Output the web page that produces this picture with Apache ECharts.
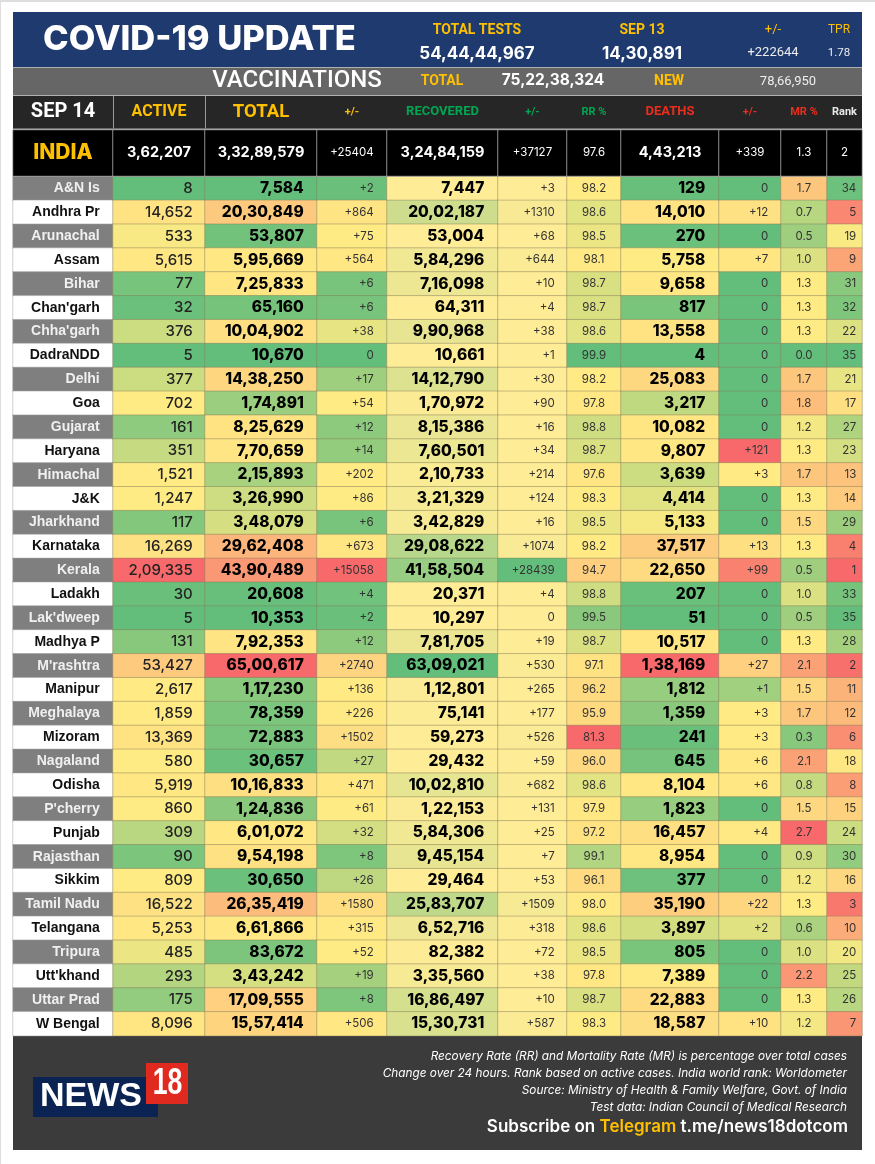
<!DOCTYPE html>
<html>
<head>
<meta charset="utf-8">
<title>COVID-19 Update</title>
<script src="https://cdn.jsdelivr.net/npm/echarts@6/dist/echarts.min.js"></script>
<style>
  html, body { margin: 0; padding: 0; background: #fff; }
  #chart { width: 875px; height: 1164px; }
</style>
</head>
<body>
<div id="chart"></div>
<script>
const states = ["A&N Is", "Andhra Pr", "Arunachal", "Assam", "Bihar", "Chan'garh", "Chha'garh", "DadraNDD", "Delhi", "Goa", "Gujarat", "Haryana", "Himachal", "J&K", "Jharkhand", "Karnataka", "Kerala", "Ladakh", "Lak'dweep", "Madhya P", "M'rashtra", "Manipur", "Meghalaya", "Mizoram", "Nagaland", "Odisha", "P'cherry", "Punjab", "Rajasthan", "Sikkim", "Tamil Nadu", "Telangana", "Tripura", "Utt'khand", "Uttar Prad", "W Bengal"];
const active = [8, 14652, 533, 5615, 77, 32, 376, 5, 377, 702, 161, 351, 1521, 1247, 117, 16269, 209335, 30, 5, 131, 53427, 2617, 1859, 13369, 580, 5919, 860, 309, 90, 809, 16522, 5253, 485, 293, 175, 8096];
const total = [7584, 2030849, 53807, 595669, 725833, 65160, 1004902, 10670, 1438250, 174891, 825629, 770659, 215893, 326990, 348079, 2962408, 4390489, 20608, 10353, 792353, 6500617, 117230, 78359, 72883, 30657, 1016833, 124836, 601072, 954198, 30650, 2635419, 661866, 83672, 343242, 1709555, 1557414];
const totalChange = [2, 864, 75, 564, 6, 6, 38, 0, 17, 54, 12, 14, 202, 86, 6, 673, 15058, 4, 2, 12, 2740, 136, 226, 1502, 27, 471, 61, 32, 8, 26, 1580, 315, 52, 19, 8, 506];
const recovered = [7447, 2002187, 53004, 584296, 716098, 64311, 990968, 10661, 1412790, 170972, 815386, 760501, 210733, 321329, 342829, 2908622, 4158504, 20371, 10297, 781705, 6309021, 112801, 75141, 59273, 29432, 1002810, 122153, 584306, 945154, 29464, 2583707, 652716, 82382, 335560, 1686497, 1530731];
const recoveredChange = [3, 1310, 68, 644, 10, 4, 38, 1, 30, 90, 16, 34, 214, 124, 16, 1074, 28439, 4, 0, 19, 530, 265, 177, 526, 59, 682, 131, 25, 7, 53, 1509, 318, 72, 38, 10, 587];
const recoveryRate = [98.2, 98.6, 98.5, 98.1, 98.7, 98.7, 98.6, 99.9, 98.2, 97.8, 98.8, 98.7, 97.6, 98.3, 98.5, 98.2, 94.7, 98.8, 99.5, 98.7, 97.1, 96.2, 95.9, 81.3, 96.0, 98.6, 97.9, 97.2, 99.1, 96.1, 98.0, 98.6, 98.5, 97.8, 98.7, 98.3];
const deaths = [129, 14010, 270, 5758, 9658, 817, 13558, 4, 25083, 3217, 10082, 9807, 3639, 4414, 5133, 37517, 22650, 207, 51, 10517, 138169, 1812, 1359, 241, 645, 8104, 1823, 16457, 8954, 377, 35190, 3897, 805, 7389, 22883, 18587];
const deathsChange = [0, 12, 0, 7, 0, 0, 0, 0, 0, 0, 0, 121, 3, 0, 0, 13, 99, 0, 0, 0, 27, 1, 3, 3, 6, 6, 0, 4, 0, 0, 22, 2, 0, 0, 0, 10];
const mortalityRate = [1.7, 0.7, 0.5, 1.0, 1.3, 1.3, 1.3, 0.0, 1.7, 1.8, 1.2, 1.3, 1.7, 1.3, 1.5, 1.3, 0.5, 1.0, 0.5, 1.3, 2.1, 1.5, 1.7, 0.3, 2.1, 0.8, 1.5, 2.7, 0.9, 1.2, 1.3, 0.6, 1.0, 2.2, 1.3, 1.2];
const rank = [34, 5, 19, 9, 31, 32, 22, 35, 21, 17, 27, 23, 13, 14, 29, 4, 1, 33, 35, 28, 2, 11, 12, 6, 18, 8, 15, 24, 30, 16, 3, 10, 20, 25, 26, 7];

// national row, same column order as above
const indiaRow = [362207, 33289579, 25404, 32484159, 37127, 97.6, 443213, 339, 1.3, 2];

const GREEN = "#63BE7B", YELLOW = "#FFEB84", RED = "#F8696B", PALE = "#FFEC96";
const SANS = "Inter, 'Liberation Sans', sans-serif";
const COND = "Roboto, 'Liberation Sans', sans-serif";
const ARIAL = "'Liberation Sans', Arial, sans-serif";

function indian(n) {
  const s = String(n);
  if (s.length <= 3) return s;
  const head = s.slice(0, -3).replace(/\B(?=(\d{2})+$)/g, ",");
  return head + "," + s.slice(-3);
}
const plus = (n) => (n === 0 ? "0" : "+" + n);
const one = (n) => n.toFixed(1);

function median(values) {
  const sorted = [...values].sort((a, b) => a - b);
  const m = sorted.length / 2;
  return Number.isInteger(m) ? (sorted[m - 1] + sorted[m]) / 2 : sorted[Math.floor(m)];
}

// excel style colour scale: returns 0..1, 0.5 sitting on the mid value
function scalePos(values, kind, midOverride) {
  const lo = Math.min(...values), hi = Math.max(...values);
  if (kind === "two") return (v) => (v - lo) / (hi - lo);
  const mid = midOverride !== undefined ? midOverride : median(values);
  return (v) => (v <= mid ? 0.5 * (v - lo) / (mid - lo) : 0.5 + 0.5 * (v - mid) / (hi - mid));
}

const columns = [
  { head: "ACTIVE", headColor: "#FFC000", headSize: 16, left: 113, right: 205, values: active, fmt: indian, colors: [GREEN, YELLOW, RED], pad: 13, size: 15, weight: 500, color: "#222" },
  { head: "TOTAL", headColor: "#FFC000", headSize: 18.5, left: 205, right: 317, values: total, fmt: indian, colors: [GREEN, YELLOW, RED], pad: 14, size: 15.5, weight: 800, color: "#000" },
  { head: "+/-", headColor: "#FFC000", headSize: 11, left: 317, right: 387, values: totalChange, fmt: plus, colors: [GREEN, YELLOW, RED], pad: 14, size: 11.5, weight: 400, color: "#333" },
  { head: "RECOVERED", headColor: "#00A651", headSize: 13, left: 387, right: 498, values: recovered, fmt: indian, kind: "two", colors: [PALE, GREEN], pad: 14.5, size: 15.5, weight: 800, color: "#000" },
  { head: "+/-", headColor: "#00A651", headSize: 11, left: 498, right: 567, values: recoveredChange, fmt: plus, kind: "two", colors: [PALE, GREEN], pad: 13, size: 11.5, weight: 400, color: "#333" },
  { head: "RR %", headColor: "#00A651", headSize: 11, left: 567, right: 621, values: recoveryRate, fmt: one, colors: [RED, YELLOW, GREEN], center: true, size: 11.5, weight: 400, color: "#333" },
  { head: "DEATHS", headColor: "#EA2E1E", headSize: 13, left: 621, right: 719, values: deaths, fmt: indian, colors: [GREEN, YELLOW, RED], pad: 14.5, size: 15.5, weight: 800, color: "#000" },
  { head: "+/-", headColor: "#EA2E1E", headSize: 11, left: 719, right: 781, values: deathsChange, fmt: plus, mid: 2.5, colors: [GREEN, YELLOW, RED], pad: 13.5, size: 11.5, weight: 400, color: "#333" },
  { head: "MR %", headColor: "#EA2E1E", headSize: 11, left: 781, right: 827, values: mortalityRate, fmt: one, colors: [GREEN, YELLOW, RED], center: true, size: 11.5, weight: 400, color: "#333" },
  { head: "Rank", headColor: "#e8e8e8", headSize: 11, left: 827, right: 862, values: rank, fmt: String, colors: [RED, YELLOW, GREEN], pad: 6.5, size: 11.5, weight: 400, color: "#333" },
];

const ROWS_TOP = 176.5, ROWS_H = 859.2;
const INDIA_TOP = 130, INDIA_H = 46;
const CELL_BORDER = "rgba(130,125,90,0.45)";

const grids = [], xAxes = [], yAxes = [], series = [], visualMaps = [];

function addColumn(opt) {
  const idx = grids.length;
  grids.push({ left: opt.left, width: opt.right - opt.left, top: opt.top, height: opt.height, show: false });
  xAxes.push({
    type: "category", gridIndex: idx, position: "top", data: [opt.head || ""],
    axisLine: { show: false }, axisTick: { show: false }, splitLine: { show: false },
    axisLabel: opt.head ? { show: true, interval: 0, margin: 18, verticalAlign: "middle", color: opt.headColor, fontSize: opt.headSize, fontWeight: opt.headWeight || 700, fontFamily: COND } : { show: false },
  });
  yAxes.push({
    type: "category", gridIndex: idx, inverse: true, data: opt.cats,
    axisLine: { show: false }, axisTick: { show: false }, axisLabel: { show: false }, splitLine: { show: false },
  });
  visualMaps.push({
    type: "continuous", show: false, seriesIndex: idx, dimension: 3, min: 0, max: 1,
    inRange: { color: opt.colors },
  });
  series.push({
    type: "heatmap", xAxisIndex: idx, yAxisIndex: idx, data: opt.data, animation: false, silent: true,
    itemStyle: { borderColor: opt.border, borderWidth: 1 },
    label: Object.assign({ show: true, formatter: opt.formatter }, opt.label),
  });
}

// state name column, value is just the row number, the fill alternates
addColumn({
  left: 13, right: 113, top: ROWS_TOP, height: ROWS_H, cats: states,
  data: states.map((s, i) => [0, i, i, i % 2 === 0 ? 0 : 1]),
  colors: ["#7F7F7F", "#FFFFFF"], border: "rgba(160,160,160,0.5)",
  formatter: (p) => "{" + (p.dataIndex % 2 === 0 ? "w" : "k") + "|" + states[p.dataIndex] + "}",
  label: {
    position: "insideRight", distance: 14,
    rich: {
      w: { color: "#F0F0F0", fontFamily: ARIAL, fontWeight: 700, fontSize: 14 },
      k: { color: "#111", fontFamily: ARIAL, fontWeight: 700, fontSize: 14 },
    },
  },
});

columns.forEach((c) => {
  const pos = scalePos(c.values, c.kind, c.mid);
  addColumn({
    left: c.left, right: c.right, top: ROWS_TOP, height: ROWS_H, cats: states,
    data: c.values.map((v, i) => [0, i, v, pos(v)]),
    colors: c.colors, border: CELL_BORDER,
    formatter: (p) => c.fmt(p.value[2]),
    label: {
      position: c.center ? "inside" : "insideRight", distance: c.pad,
      color: c.color, fontFamily: SANS, fontSize: c.size, fontWeight: c.weight,
    },
  });
});

// national row, black cells, carries the column headings on its top axis
const INDIA_BORDER = "rgba(190,190,190,0.7)";
addColumn({
  head: "SEP 14", headColor: "#fff", headSize: 20,
  left: 13, right: 113, top: INDIA_TOP, height: INDIA_H, cats: ["INDIA"],
  data: [[0, 0, 0, 0]], colors: ["#000", "#000"], border: INDIA_BORDER,
  formatter: () => "INDIA",
  label: { color: "#FFC000", fontFamily: SANS, fontSize: 21, fontWeight: 800 },
});
columns.forEach((c, i) => {
  const big = c.weight === 800 || i === 0;
  addColumn({
    head: c.head, headColor: c.headColor, headSize: c.headSize,
    left: c.left, right: c.right, top: INDIA_TOP, height: INDIA_H, cats: ["INDIA"],
    data: [[0, 0, indiaRow[i], 0]], colors: ["#000", "#000"], border: INDIA_BORDER,
    formatter: (p) => c.fmt(p.value[2]),
    label: { color: "#fff", fontFamily: SANS, fontSize: big ? 14.5 : 11.5, fontWeight: big ? 700 : 400 },
  });
});

function txt(x, y, text, color, size, weight, align, family, style) {
  return {
    type: "text", x, y, silent: true,
    style: { text, fill: color, fontSize: size, fontWeight: weight, fontFamily: family || COND, fontStyle: style || "normal", align: align || "center", verticalAlign: "middle" },
  };
}
function box(x, y, w, h, fill) {
  return { type: "rect", silent: true, shape: { x, y, width: w, height: h }, style: { fill } };
}

const GOLD = "#FFC000";
const graphics = [
  box(0, 0, 875, 2, "#DDDDDD"),
  box(0, 0, 1, 1164, "#DDDDDD"),
  box(13, 12, 849, 165, "#B0B0B0"),
  box(13, 12, 849, 55, "#1F3A6E"),
  box(13, 68, 849, 27, "#666666"),
  box(13, 96, 849, 32.5, "#262626"),
  box(113, 96, 1, 32.5, "#999"),
  box(205, 96, 1, 32.5, "#999"),
  box(13, 1036, 849, 114, "#3B3B3B"),

  txt(199.5, 39.5, "COVID-19 UPDATE", "#fff", 34.5, 800, "center", SANS),
  txt(477, 30, "TOTAL TESTS", GOLD, 14, 700),
  txt(642, 30, "SEP 13", GOLD, 14, 700),
  txt(773, 30, "+/-", GOLD, 13, 400),
  txt(839, 30, "TPR", GOLD, 12, 400),
  txt(477, 54, "54,44,44,967", "#fff", 17, 700, "center", SANS),
  txt(642, 54, "14,30,891", "#fff", 17, 700, "center", SANS),
  txt(773, 53, "+222644", "#eee", 13, 400),
  txt(839, 53, "1.78", "#eee", 11.5, 400),

  txt(297, 81, "VACCINATIONS", "#fff", 24, 500),
  txt(442, 81.5, "TOTAL", GOLD, 14, 700),
  txt(553, 80.5, "75,22,38,324", "#fff", 15.5, 700, "center", SANS),
  txt(669, 81.5, "NEW", GOLD, 14, 700),
  txt(788, 81.5, "78,66,950", "#eee", 13, 400),

  // logo
  box(33, 1077, 125, 40, "#0B2352"),
  box(146, 1063, 42, 41, "#E02A20"),
  txt(40, 1097, "NEWS", "#fff", 34, 700, "left", ARIAL),
  Object.assign(txt(167.5, 1084, "18", "#fff", 37, 700, "center", ARIAL), { scaleX: 0.72 }),

  txt(847, 1056, "Recovery Rate (RR) and Mortality Rate (MR) is percentage over total cases", "#fff", 11.8, 400, "right", SANS, "italic"),
  txt(847, 1073, "Change over 24 hours. Rank based on active cases. India world rank: Worldometer", "#fff", 11.8, 400, "right", SANS, "italic"),
  txt(847, 1090, "Source: Ministry of Health & Family Welfare, Govt. of India", "#fff", 11.8, 400, "right", SANS, "italic"),
  txt(847, 1107, "Test data: Indian Council of Medical Research", "#fff", 11.8, 400, "right", SANS, "italic"),
  {
    type: "text", x: 848, y: 1127, silent: true,
    style: {
      text: "{a|Subscribe on }{b|Telegram}{a| t.me/news18dotcom}", align: "right", verticalAlign: "middle",
      rich: {
        a: { fill: "#fff", fontSize: 17, fontWeight: 600, fontFamily: SANS },
        b: { fill: GOLD, fontSize: 17, fontWeight: 600, fontFamily: SANS },
      },
    },
  },
];

const chart = echarts.init(document.getElementById("chart"), null, { renderer: "canvas" });
chart.setOption({
  backgroundColor: "#fff",
  animation: false,
  tooltip: { show: false },
  graphic: { elements: graphics },
  grid: grids,
  xAxis: xAxes,
  yAxis: yAxes,
  visualMap: visualMaps,
  series,
});
</script>
</body>
</html>
